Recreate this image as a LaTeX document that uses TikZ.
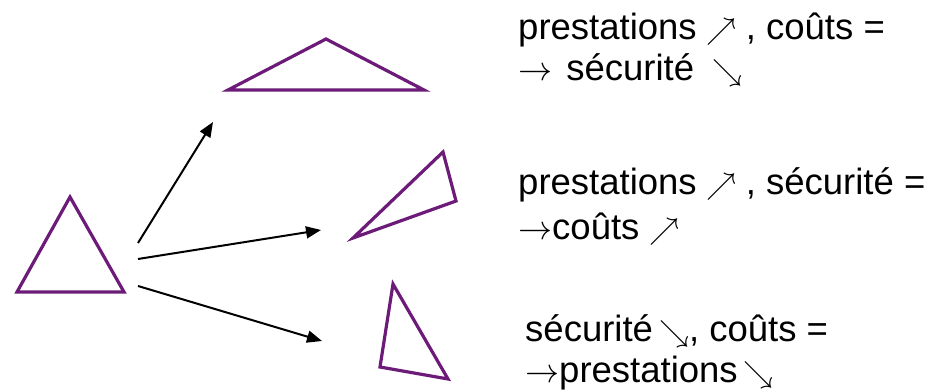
\RequirePackage{fix-cm}
\documentclass[tikz,border=0pt]{standalone}
\usepackage{fontspec}
\setmainfont{Liberation Sans}
\usetikzlibrary{arrows.meta}
\definecolor{tripurple}{RGB}{108,28,120}
\newcommand{\arrNE}{{\fontsize{30}{30}\selectfont$\nearrow$}}
\newcommand{\arrSE}{{\fontsize{30}{30}\selectfont$\searrow$}}
\newcommand{\arrR}{{\fontsize{34}{34}\selectfont$\rightarrow$}}
\begin{document}
\begin{tikzpicture}[x=1pt,y=-1pt,
  tri/.style={draw=tripurple,line width=3.2pt,line join=miter},
  arr/.style={draw=black,line width=2pt,-{Triangle[length=15pt,width=12pt]}},
  lbl/.style={anchor=base west,inner sep=0pt,font=\fontsize{36.5}{40}\selectfont}]
\useasboundingbox (0,0) rectangle (936,390);
% triangles
\draw[tri] (70,197) -- (124,292) -- (17,292) -- cycle;
\draw[tri] (326,39) -- (424,90) -- (228,90) -- cycle;
\draw[tri] (443,152) -- (456,201) -- (353,238) -- cycle;
\draw[tri] (393,284) -- (448,379) -- (380,367) -- cycle;
% arrow end points
\coordinate (s1) at (138,243);
\coordinate (e1) at (213,122);
\coordinate (s2) at (138,259);
\coordinate (e2) at (321,230);
\coordinate (s3) at (138,286);
\coordinate (e3) at (322,341);
\draw[arr] (s1) -- (e1);
\draw[arr] (s2) -- (e2);
\draw[arr] (s3) -- (e3);
% labels
\node[lbl] (t1a) at (518,40) {prestations \arrNE\kern9pt, coûts =};
\node[lbl] (t1b) at (518,81) {\arrR\kern4pt{} sécurité \kern8pt\arrSE};
\node[lbl] (t2a) at (518,194) {prestations \arrNE\kern9pt, sécurité =};
\node[lbl] (t2b) at (518,239) {\arrR{}coûts \arrNE};
\node[lbl] (t3a) at (525,341) {sécurité\,\arrSE, coûts =};
\node[lbl] (t3b) at (525,382) {\arrR{}prestations\,\arrSE};
\end{tikzpicture}
\end{document}
